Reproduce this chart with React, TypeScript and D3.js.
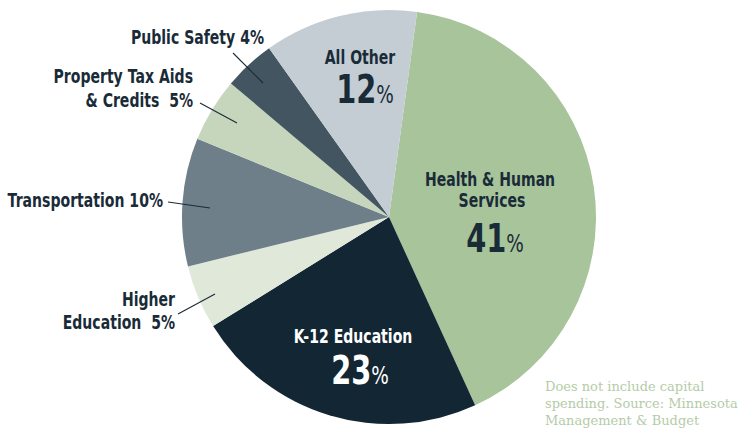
import React from "react";
import * as d3 from "d3";

const categories = [
  "Health & Human Services",
  "K-12 Education",
  "Higher Education",
  "Transportation",
  "Property Tax Aids & Credits",
  "Public Safety",
  "All Other",
];
const values = [41, 23, 5, 10, 5, 4, 12];
const colors = ["#a8c49a", "#132633", "#e0e8da", "#6e7f8a", "#c6d6bd", "#425560", "#c4cdd4"];
const footnote = ["Does not include capital", "spending. Source: Minnesota", "Management & Budget"];

const W = 742;
const H = 432;
const cx = 389;
const cy = 217;
const R = 207;
const FONT = "'DejaVu Sans', sans-serif";
const DARK = "#1a2b38";
const SX = 0.74;

type TProps = { x: number; y: number; anchor?: "start" | "middle" | "end"; fill?: string; size?: number; children: React.ReactNode };
function T({ x, y, anchor = "middle", fill = DARK, size = 19, children }: TProps) {
  return (
    <text
      transform={`translate(${x},${y}) scale(${SX},1)`}
      textAnchor={anchor}
      xmlSpace="preserve"
      style={{ fontFamily: FONT, fontWeight: 700, fontSize: size, fill, whiteSpace: "pre" }}
    >
      {children}
    </text>
  );
}

export default function App() {
  const startOffset = (7.8 * Math.PI) / 180;
  const pie = d3
    .pie<number>()
    .sort(null)
    .value((d) => d)
    .startAngle(startOffset)
    .endAngle(startOffset + 2 * Math.PI);
  const arcs = pie(values);
  const arc = d3.arc<d3.PieArcDatum<number>>().innerRadius(0).outerRadius(R);

  const big = (txt: string, x: number, y: number, fill: string) => (
    <T x={x} y={y} fill={fill}>
      <tspan fontSize={39}>{txt}</tspan>
      <tspan fontSize={25} fontWeight={400}>%</tspan>
    </T>
  );

  return (
    <svg width={W} height={H} style={{ position: "absolute", left: 0, top: 0, background: "#fff" }}>
      <g transform={`translate(${cx},${cy})`}>
        {arcs.map((a, i) => (
          <path key={categories[i]} d={arc(a) || ""} fill={colors[i]} />
        ))}
      </g>

      {/* inside labels */}
      <T x={360} y={64}>All Other</T>
      {big(String(values[6]), 365, 103, DARK)}

      <T x={490} y={186}>Health &amp; Human</T>
      <T x={492} y={207}>Services</T>
      {big(String(values[0]), 495, 252, DARK)}

      <T x={353} y={343} fill="#ffffff">K-12 Education</T>
      {big(String(values[1]), 360, 384, "#ffffff")}

      {/* outside labels */}
      <T x={264} y={44} anchor="end">{`Public Safety ${values[5]}%`}</T>
      <line x1={233} y1={53} x2={263} y2={83} stroke={DARK} strokeWidth={1.1} />

      <T x={193} y={83} anchor="end">Property Tax Aids</T>
      <T x={193} y={107} anchor="end">{`& Credits  ${values[4]}%`}</T>
      <line x1={200} y1={103} x2={237} y2={123} stroke={DARK} strokeWidth={1.1} />

      <T x={163} y={207} anchor="end">{`Transportation ${values[3]}%`}</T>
      <line x1={168} y1={202} x2={210} y2={208} stroke={DARK} strokeWidth={1.1} />

      <T x={175} y={306} anchor="end">Higher</T>
      <T x={175} y={329} anchor="end">{`Education  ${values[2]}%`}</T>
      <line x1={178} y1={314} x2={215} y2={294} stroke={DARK} strokeWidth={1.1} />

      {footnote.map((t, i) => (
        <text
          key={t}
          x={545}
          y={391 + i * 17}
          style={{ fontFamily: "'DejaVu Serif', serif", fontSize: 13, fill: "#b5cba8" }}
        >
          {t}
        </text>
      ))}
    </svg>
  );
}
